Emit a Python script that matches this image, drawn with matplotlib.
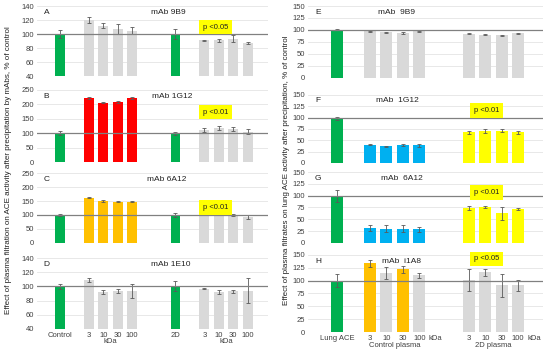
import matplotlib.pyplot as plt

GREEN = "#00B050"
GRAY = "#D9D9D9"
RED = "#FF0000"
ORANGE = "#FFC000"
BLUE = "#00B0F0"
YELLOW = "#FFFF00"

# left panel: Control, 3, 10, 30, 100, 2D, 3, 10, 30, 100
left_pos = [0, 2, 3, 4, 5, 8, 10, 11, 12, 13]
left_ticks = ["Control", "3", "10", "30", "100", "2D", "3", "10", "30", "100"]

a_val = [100, 120, 112, 107, 105, 100, 91, 91, 93, 87]
a_err = [6, 4, 4, 7, 5, 7, 0.5, 2, 5, 1.5]
a_col = [GREEN, GRAY, GRAY, GRAY, GRAY, GREEN, GRAY, GRAY, GRAY, GRAY]

b_val = [100, 221, 205, 208, 222, 100, 110, 118, 115, 106]
b_err = [7, 3, 2, 2, 3, 6, 7, 8, 6, 7]
b_col = [GREEN, RED, RED, RED, RED, GREEN, GRAY, GRAY, GRAY, GRAY]

c_val = [100, 162, 150, 147, 148, 100, 100, 102, 100, 93]
c_err = [5, 2, 4, 2, 2, 6, 1, 2, 2, 8]
c_col = [GREEN, ORANGE, ORANGE, ORANGE, ORANGE, GREEN, GRAY, GRAY, GRAY, GRAY]

d_val = [100, 109, 92, 93, 94, 100, 97, 92, 93, 94]
d_err = [4, 3, 3, 3, 10, 7, 1, 3, 2, 18]
d_col = [GREEN, GRAY, GRAY, GRAY, GRAY, GREEN, GRAY, GRAY, GRAY, GRAY]

# right panel: Lung ACE, control plasma 3..100, 2D plasma 3..100
right_pos = [0, 2, 3, 4, 5, 8, 9, 10, 11]
right_ticks = ["Lung ACE", "3", "10", "30", "100", "3", "10", "30", "100"]

e_val = [100, 97, 95, 93, 97, 92, 90, 89, 93]
e_err = [1, 1, 1, 2, 1, 1, 1, 1, 1]
e_col = [GREEN] + [GRAY] * 8

f_val = [98, 40, 37, 40, 39, 67, 70, 71, 67]
f_err = [3, 1, 1, 2, 3, 3, 4, 4, 3]
f_col = [GREEN] + [BLUE] * 4 + [YELLOW] * 4

g_val = [100, 32, 30, 30, 29, 74, 76, 63, 72]
g_err = [13, 6, 7, 8, 5, 4, 3, 14, 2]
g_col = [GREEN] + [BLUE] * 4 + [YELLOW] * 4

h_val = [100, 134, 115, 122, 110, 101, 116, 91, 91]
h_err = [12, 7, 12, 7, 4, 22, 7, 22, 11]
h_col = [GREEN, ORANGE, GRAY, ORANGE, GRAY, GRAY, GRAY, GRAY, GRAY]

FS = 5.5
plt.rcParams["font.family"] = ["Liberation Sans", "DejaVu Sans"]
plt.rcParams["font.size"] = FS

fig = plt.figure(figsize=(5.5, 3.54), dpi=100)


def panel(rect, pos, vals, errs, cols, ylim, step, letter, title, tx, xlim,
          pbox=None, width=0.7):
    ax = fig.add_axes(rect)
    ax.bar(pos, vals, width=width, color=cols, zorder=2)
    ax.errorbar(pos, vals, yerr=errs, fmt="none", ecolor="#595959",
                elinewidth=0.6, capsize=1.5, capthick=0.6, zorder=3)
    ax.set_ylim(*ylim)
    ax.set_xlim(*xlim)
    ax.set_yticks(range(ylim[0], ylim[1] + 1, step))
    ax.yaxis.grid(True, color="#E4E4E4", linewidth=0.6, zorder=0)
    ax.axhline(100, color="#808080", linewidth=0.9, zorder=4)
    for s in ax.spines.values():
        s.set_visible(False)
    ax.tick_params(axis="y", length=0, pad=2, labelsize=FS, colors="#404040")
    ax.tick_params(axis="x", length=0, pad=2, labelsize=FS, colors="#404040")
    ax.set_xticks([])
    ax.text(0.03, 0.91, letter, transform=ax.transAxes, fontsize=FS + 0.5,
            va="center", ha="left", color="#222222")
    ax.text(tx, 0.91, title, transform=ax.transAxes, fontsize=FS + 0.5,
            va="center", ha="center", color="#222222")
    if pbox is not None:
        px, py, ptxt = pbox
        ax.text(px, py, ptxt, fontsize=FS, ha="center", va="center",
                color="#222222", zorder=5,
                bbox=dict(boxstyle="square,pad=0.5", fc=YELLOW, ec="none"))
    return ax


lx = (-1.6, 14.4)
lrect = lambda b, t: [0.067, b, 0.42, t - b]
panel(lrect(0.785, 0.983), left_pos, a_val, a_err, a_col, (40, 140), 20,
      "A", "mAb 9B9", 0.57, lx, (10.8, 110, "p <0.05"), width=0.68)
panel(lrect(0.542, 0.746), left_pos, b_val, b_err, b_col, (0, 250), 50,
      "B", "mAb 1G12", 0.585, lx, (10.8, 173, "p <0.01"), width=0.68)
panel(lrect(0.314, 0.511), left_pos, c_val, c_err, c_col, (0, 250), 50,
      "C", "mAb 6A12", 0.56, lx, (10.8, 127, "p <0.01"), width=0.68)
axd = panel(lrect(0.071, 0.271), left_pos, d_val, d_err, d_col, (40, 140), 20,
            "D", "mAb 1E10", 0.58, lx, width=0.68)
axd.set_xticks(left_pos)
axd.set_xticklabels(left_ticks)
for xc in (3.5, 11.5):
    axd.text(xc, -0.13, "kDa", transform=axd.get_xaxis_transform(),
             ha="center", va="top", fontsize=FS, color="#404040")

rx = (-1.75, 12.5)
rrect = lambda b, t: [0.56, b, 0.427, t - b]
panel(rrect(0.780, 0.983), right_pos, e_val, e_err, e_col, (0, 150), 25,
      "E", "mAb  9B9", 0.375, rx, width=0.72)
panel(rrect(0.540, 0.732), right_pos, f_val, f_err, f_col, (0, 150), 25,
      "F", "mAb  1G12", 0.38, rx, (9.1, 115, "p <0.01"), width=0.72)
panel(rrect(0.314, 0.514), right_pos, g_val, g_err, g_col, (0, 150), 25,
      "G", "mAb  6A12", 0.40, rx, (9.1, 107, "p <0.01"), width=0.72)
axh = panel(rrect(0.062, 0.280), right_pos, h_val, h_err, h_col, (0, 150), 25,
            "H", "mAb  i1A8", 0.40, rx, (9.1, 142, "p <0.05"), width=0.72)
axh.set_xticks(right_pos + [6, 12])
axh.set_xticklabels(right_ticks + ["kDa", "kDa"])
axh.text(3.5, -0.13, "Control plasma", transform=axh.get_xaxis_transform(),
         ha="center", va="top", fontsize=FS, color="#404040")
axh.text(9.5, -0.13, "2D plasma", transform=axh.get_xaxis_transform(),
         ha="center", va="top", fontsize=FS, color="#404040")

fig.text(0.015, 0.52, "Effect of plasma filtration on ACE activity after "
         "precipitation by mAbs, % of control", rotation=90, ha="center",
         va="center", fontsize=FS + 0.3, color="#222222")
fig.text(0.52, 0.52, "Effect of plasma filtrates on lung ACE activity after "
         "precipitation, % of control", rotation=90, ha="center",
         va="center", fontsize=FS + 0.3, color="#222222")

fig.savefig("out.png", dpi=100)
